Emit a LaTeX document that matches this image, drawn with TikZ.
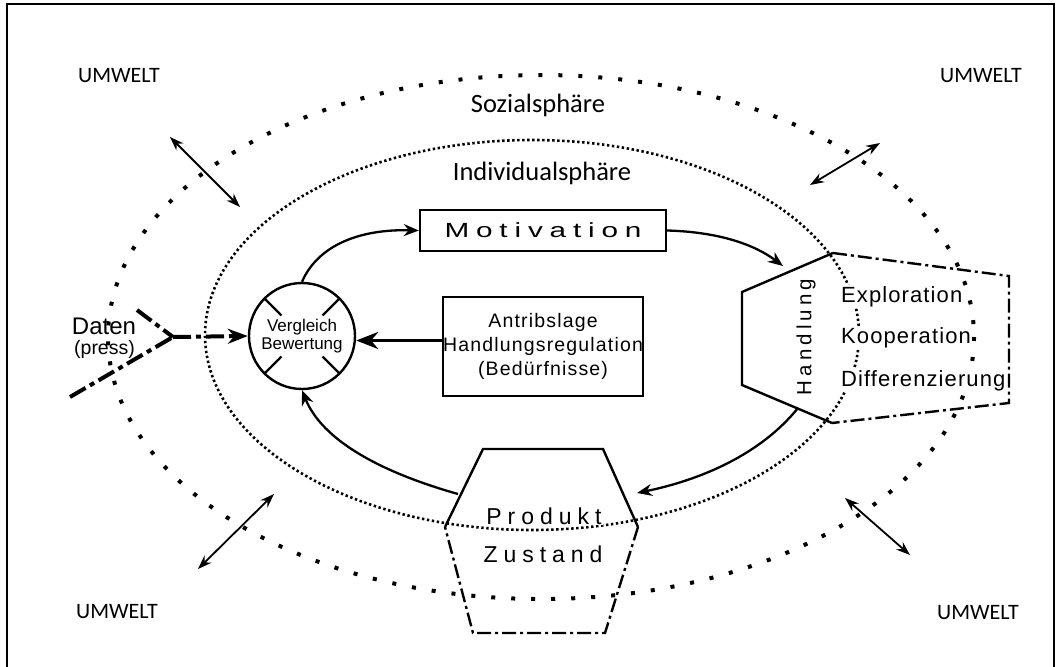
\documentclass[tikz,border=0pt]{standalone}
\usepackage{fontspec}
\setmainfont{Liberation Sans}
\newfontfamily\calfont{Carlito}
\newfontfamily\widefont[LetterSpace=23]{Liberation Sans}
\newfontfamily\midfont[LetterSpace=26]{Liberation Sans}
\newfontfamily\handfont[LetterSpace=20]{Liberation Sans}
\newfontfamily\listfont[LetterSpace=5]{Liberation Sans}
\newfontfamily\boxfont[LetterSpace=6]{Liberation Sans}
\usetikzlibrary{arrows.meta,calc}

\tikzset{
  sozial/.style={line width=4pt, dash pattern=on 4pt off 16pt},
  indiv/.style={line width=2.6pt, dash pattern=on 2.4pt off 2.6pt},
  solidedge/.style={line width=2.4pt, line join=miter},
  dashdotedge/.style={line width=2.4pt, dash pattern=on 14pt off 4pt on 3pt off 4pt},
  datline/.style={line width=4pt, dash pattern=on 18pt off 5pt on 5pt off 5pt},
  flow/.style={line width=2.3pt, -{Stealth[length=15pt,width=12pt]}},
  exchange/.style={line width=1.8pt, {Stealth[length=14pt,width=10pt]}-{Stealth[length=14pt,width=10pt]}},
  mask/.style={fill=white, inner sep=1pt},
  umwelt/.style={font=\calfont\fontsize{22}{24}\selectfont},
  sphere/.style={font=\calfont\fontsize{26.5}{30}\selectfont, anchor=base},
}

\begin{document}
\begin{tikzpicture}[x=1pt,y=-1pt]
\useasboundingbox (0,0) rectangle (1059,666);
\fill[white] (0,0) rectangle (1059,666);
% frame
\draw[line width=2.2pt] (7,672) -- (7,4) -- (1054,4) -- (1054,672);

% social and individual spheres
\draw[sozial] (541,337) ellipse [x radius=433, y radius=262];
\draw[indiv] (532,335) ellipse [x radius=327, y radius=195];

% environment labels
\node[umwelt] (u1) at (119,76) {UMWELT};
\node[umwelt] (u2) at (981,76) {UMWELT};
\node[umwelt] (u3) at (117,612) {UMWELT};
\node[umwelt] (u4) at (978,613) {UMWELT};

\node[sphere] (soz) at (538,113) {Sozialsphäre};
\node[sphere] (ind) at (542,180) {Individualsphäre};

% exchange with the environment
\coordinate (e1a) at (170,137); \coordinate (e1b) at (240,207);
\coordinate (e2a) at (880,143); \coordinate (e2b) at (810,185);
\coordinate (e3a) at (274,494); \coordinate (e3b) at (198,569);
\coordinate (e4a) at (845,498); \coordinate (e4b) at (910,555);
\draw[exchange] (e1a) -- (e1b);
\draw[exchange] (e2a) -- (e2b);
\draw[exchange] (e3a) -- (e3b);
\draw[exchange] (e4a) -- (e4b);

% action hexagon
\coordinate (h1) at (833,253); \coordinate (h2) at (742,292);
\coordinate (h3) at (742,385); \coordinate (h4) at (832,423);
\coordinate (h5) at (1009,403); \coordinate (h6) at (1009,276);
\node[mask, rotate=90, font=\handfont\fontsize{20.5}{22}\selectfont] (hand) at (806,337) {Handlung};
\node[mask, anchor=base west, font=\listfont\fontsize{22}{26}\selectfont] (expl) at (840,302) {Exploration};
\node[mask, anchor=base west, font=\listfont\fontsize{22}{26}\selectfont] (koop) at (840,343) {Kooperation};
\node[mask, anchor=base west, font=\listfont\fontsize{22}{26}\selectfont] (diff) at (840,386) {Differenzierung};
\draw[solidedge] (h1) -- (h2) -- (h3) -- (h4);
\draw[dashdotedge] (h1) -- (h6) -- (h5) -- (h4);

% product hexagon
\coordinate (p1) at (445,527); \coordinate (p2) at (483,449);
\coordinate (p3) at (603,449); \coordinate (p4) at (638,527);
\coordinate (p5) at (605,633); \coordinate (p6) at (473,633);
\node[mask, anchor=base, font=\midfont\fontsize{23}{26}\selectfont] (prod) at (544,524) {Produkt};
\node[mask, anchor=base, font=\midfont\fontsize{23}{26}\selectfont] (zust) at (543,562) {Zustand};
\draw[solidedge] (p1) -- (p2) -- (p3) -- (p4);
\draw[dashdotedge] (p4) -- (p5) -- (p6) -- (p1);

% comparison circle
\node[circle, draw, line width=2.4pt, minimum size=106pt, inner sep=0pt, align=center,
      font=\fontsize{17}{18.5}\selectfont] (cmp) at (302,336) {Vergleich\\Bewertung};
\foreach \a in {45,135,225,315}
  \draw[line width=2.4pt] ($(cmp.center)+(\a:29)$) -- ($(cmp.center)+(\a:53)$);

% motivation and drive
\node[draw, line width=2.4pt, minimum width=246pt, minimum height=41pt, inner sep=0pt,
      font=\widefont\fontsize{20.5}{24}\selectfont] (mot) at (543,230.5)
      {\scalebox{1.45}[1]{Motivation}};
\node[draw, line width=2.4pt, minimum width=198pt, minimum height=99pt, inner sep=0pt, align=center,
      font=\boxfont\fontsize{19.5}{24}\selectfont] (drive) at (543,346.5)
      {Antribslage\\Handlungsregulation\\(Bedürfnisse)};
\path (drive.west) ++(0,-6) coordinate (dw);
\draw[line width=3.5pt, -{Stealth[length=22pt,width=17pt]}] (dw) -- (dw -| cmp.east);

% incoming data
\node[anchor=base, font=\fontsize{24}{28}\selectfont, inner sep=1pt] (dat) at (104,334) {Daten};
\node[anchor=base, font=\fontsize{19.5}{24}\selectfont, inner sep=1pt] (press) at (104.5,354) {(press)};
\coordinate (dv) at (173,337);
\coordinate (da) at (137,310);
\coordinate (db) at (70,397);
\draw[datline] (da) -- (dv);
\draw[datline] (db) -- (dv);
\draw[datline, -{Stealth[length=20pt,width=15pt]}] (dv) -- (cmp.west);

% regulation cycle
\coordinate (hin) at (783,266);
\coordinate (hout) at (798,408);
\coordinate (pin) at (637,493);
\coordinate (pout) at (458,494);
\draw[flow] (cmp.north) .. controls (318,245) and (360,229) .. (mot.west);
\draw[flow] (mot.east) .. controls (720,232) and (755,245) .. (hin);
\draw[flow] (hout) .. controls (760,455) and (700,480) .. (pin);
\draw[flow] (pout) .. controls (380,472) and (322,440) .. (cmp.south);
\end{tikzpicture}
\end{document}
